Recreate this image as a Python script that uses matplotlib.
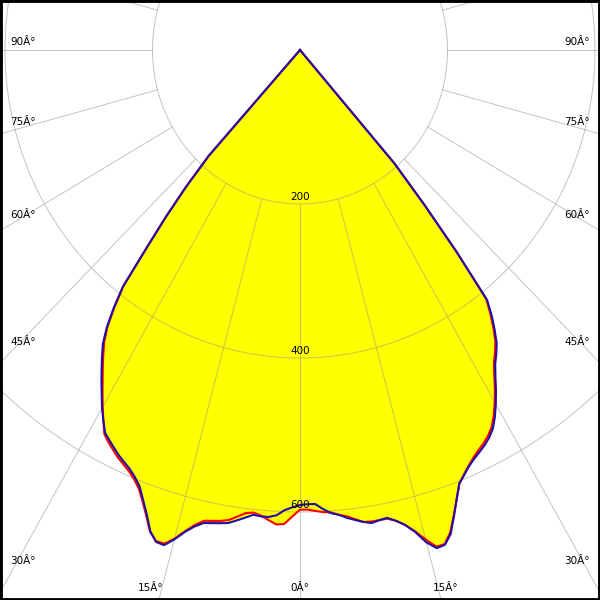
import numpy as np
import matplotlib
matplotlib.use('Agg')
import matplotlib.pyplot as plt

# gamma angles (deg from nadir) and intensities for the two planes
gamma = list(range(0, 45))
blue_left = [591, 594, 598, 605, 608, 608, 607, 612, 617, 622,
             624, 626, 628, 635, 645, 658, 669, 668, 657, 638,
             622, 607, 598, 591, 586, 581, 575, 569, 563, 550,
             537, 522, 508, 494, 480, 466, 446, 420, 390, 330,
             283, 236, 185, 0, 0]
blue_right = [591, 590, 590, 597, 603, 606, 611, 615, 619, 622,
              620, 619, 625, 633, 645, 662, 673, 672, 661, 641,
              621, 603, 595, 587, 581, 576, 571, 565, 557, 545,
              531, 516, 500, 486, 476, 465, 449, 432, 412, 338,
              262, 195, 0, 0, 0]
red_left = [597, 606, 616, 617, 612, 607, 604, 606, 612, 618,
            621, 623, 625, 633, 644, 657, 667, 667, 658, 640,
            624, 610, 601, 594, 589, 584, 578, 572, 565, 550,
            535, 520, 505, 491, 477, 463, 444, 418, 389, 330,
            283, 236, 185, 0, 0]
red_right = [597, 597, 599, 601, 602, 606, 609, 614, 619, 620,
             620, 620, 625, 633, 644, 658, 671, 671, 659, 640,
             621, 603, 594, 586, 579, 573, 568, 562, 554, 542,
             528, 513, 497, 483, 473, 462, 446, 429, 410, 337,
             262, 195, 0, 0, 0]

rings = [200, 400, 600]
spoke_step = 15
angle_labels = ['90Â°', '75Â°', '60Â°', '45Â°', '30Â°', '15Â°', '0Â°']

# pixel scale of the original (slightly squashed horizontally)
SX, SY = 0.7375, 0.77


def outline(left, right):
    g = np.radians(gamma)
    l = np.asarray(left, float)
    r = np.asarray(right, float)
    x = np.concatenate([-l[::-1] * np.sin(g[::-1]), r * np.sin(g)])
    y = np.concatenate([-l[::-1] * np.cos(g[::-1]), -r * np.cos(g)])
    return x, y


fig = plt.figure(figsize=(6, 6), dpi=100)
ax = fig.add_axes([0, 0, 1, 1])
ax.set_xlim(-300 / SX, 300 / SX)
ax.set_ylim(-550 / SY, 50 / SY)
ax.set_xticks([])
ax.set_yticks([])
for sp in ax.spines.values():
    sp.set_color('black')
    sp.set_linewidth(3.5)

bx, by = outline(blue_left, blue_right)
rx, ry = outline(red_left, red_right)
ax.fill(rx, ry, color='#ffff00', lw=0, zorder=1)
ax.fill(bx, by, color='#ffff00', lw=0, zorder=1)

# grid
t = np.linspace(0, 2 * np.pi, 500)
for r in rings:
    ax.plot(r * np.sin(t), r * np.cos(t), color='#989488', lw=0.7,
            alpha=0.55, zorder=2)
for a in range(0, 360, spoke_step):
    ar = np.radians(a)
    ax.plot([200 * np.sin(ar), 1200 * np.sin(ar)],
            [-200 * np.cos(ar), -1200 * np.cos(ar)],
            color='#989488', lw=0.7, alpha=0.55, zorder=2)

ax.plot(rx, ry, color='#ff0000', lw=1.5, zorder=3)
ax.plot(bx, by, color='#2010a8', lw=1.5, zorder=4)

for r in rings:
    ax.text(0, -r + 7 / SY, str(r), ha='center', va='center', fontsize=7.5,
            color='black', zorder=5)

# angle labels placed where spokes leave the frame
left_pos = [(10, 42), (10, 122), (10, 215), (10, 342), (10, 561)]
for lab, (px, py) in zip(angle_labels[:5], left_pos):
    ax.text(px / 600, 1 - py / 600, lab, transform=ax.transAxes,
            ha='left', va='center', fontsize=7.5, zorder=5)
    ax.text(1 - px / 600, 1 - py / 600, lab, transform=ax.transAxes,
            ha='right', va='center', fontsize=7.5, zorder=5)
ax.text(151 / 600, 1 - 588 / 600, angle_labels[5], transform=ax.transAxes,
        ha='center', va='center', fontsize=7.5, zorder=5)
ax.text(446 / 600, 1 - 588 / 600, angle_labels[5], transform=ax.transAxes,
        ha='center', va='center', fontsize=7.5, zorder=5)
ax.text(300 / 600, 1 - 588 / 600, angle_labels[6], transform=ax.transAxes,
        ha='center', va='center', fontsize=7.5, zorder=5)

fig.savefig('out.png', dpi=100)
